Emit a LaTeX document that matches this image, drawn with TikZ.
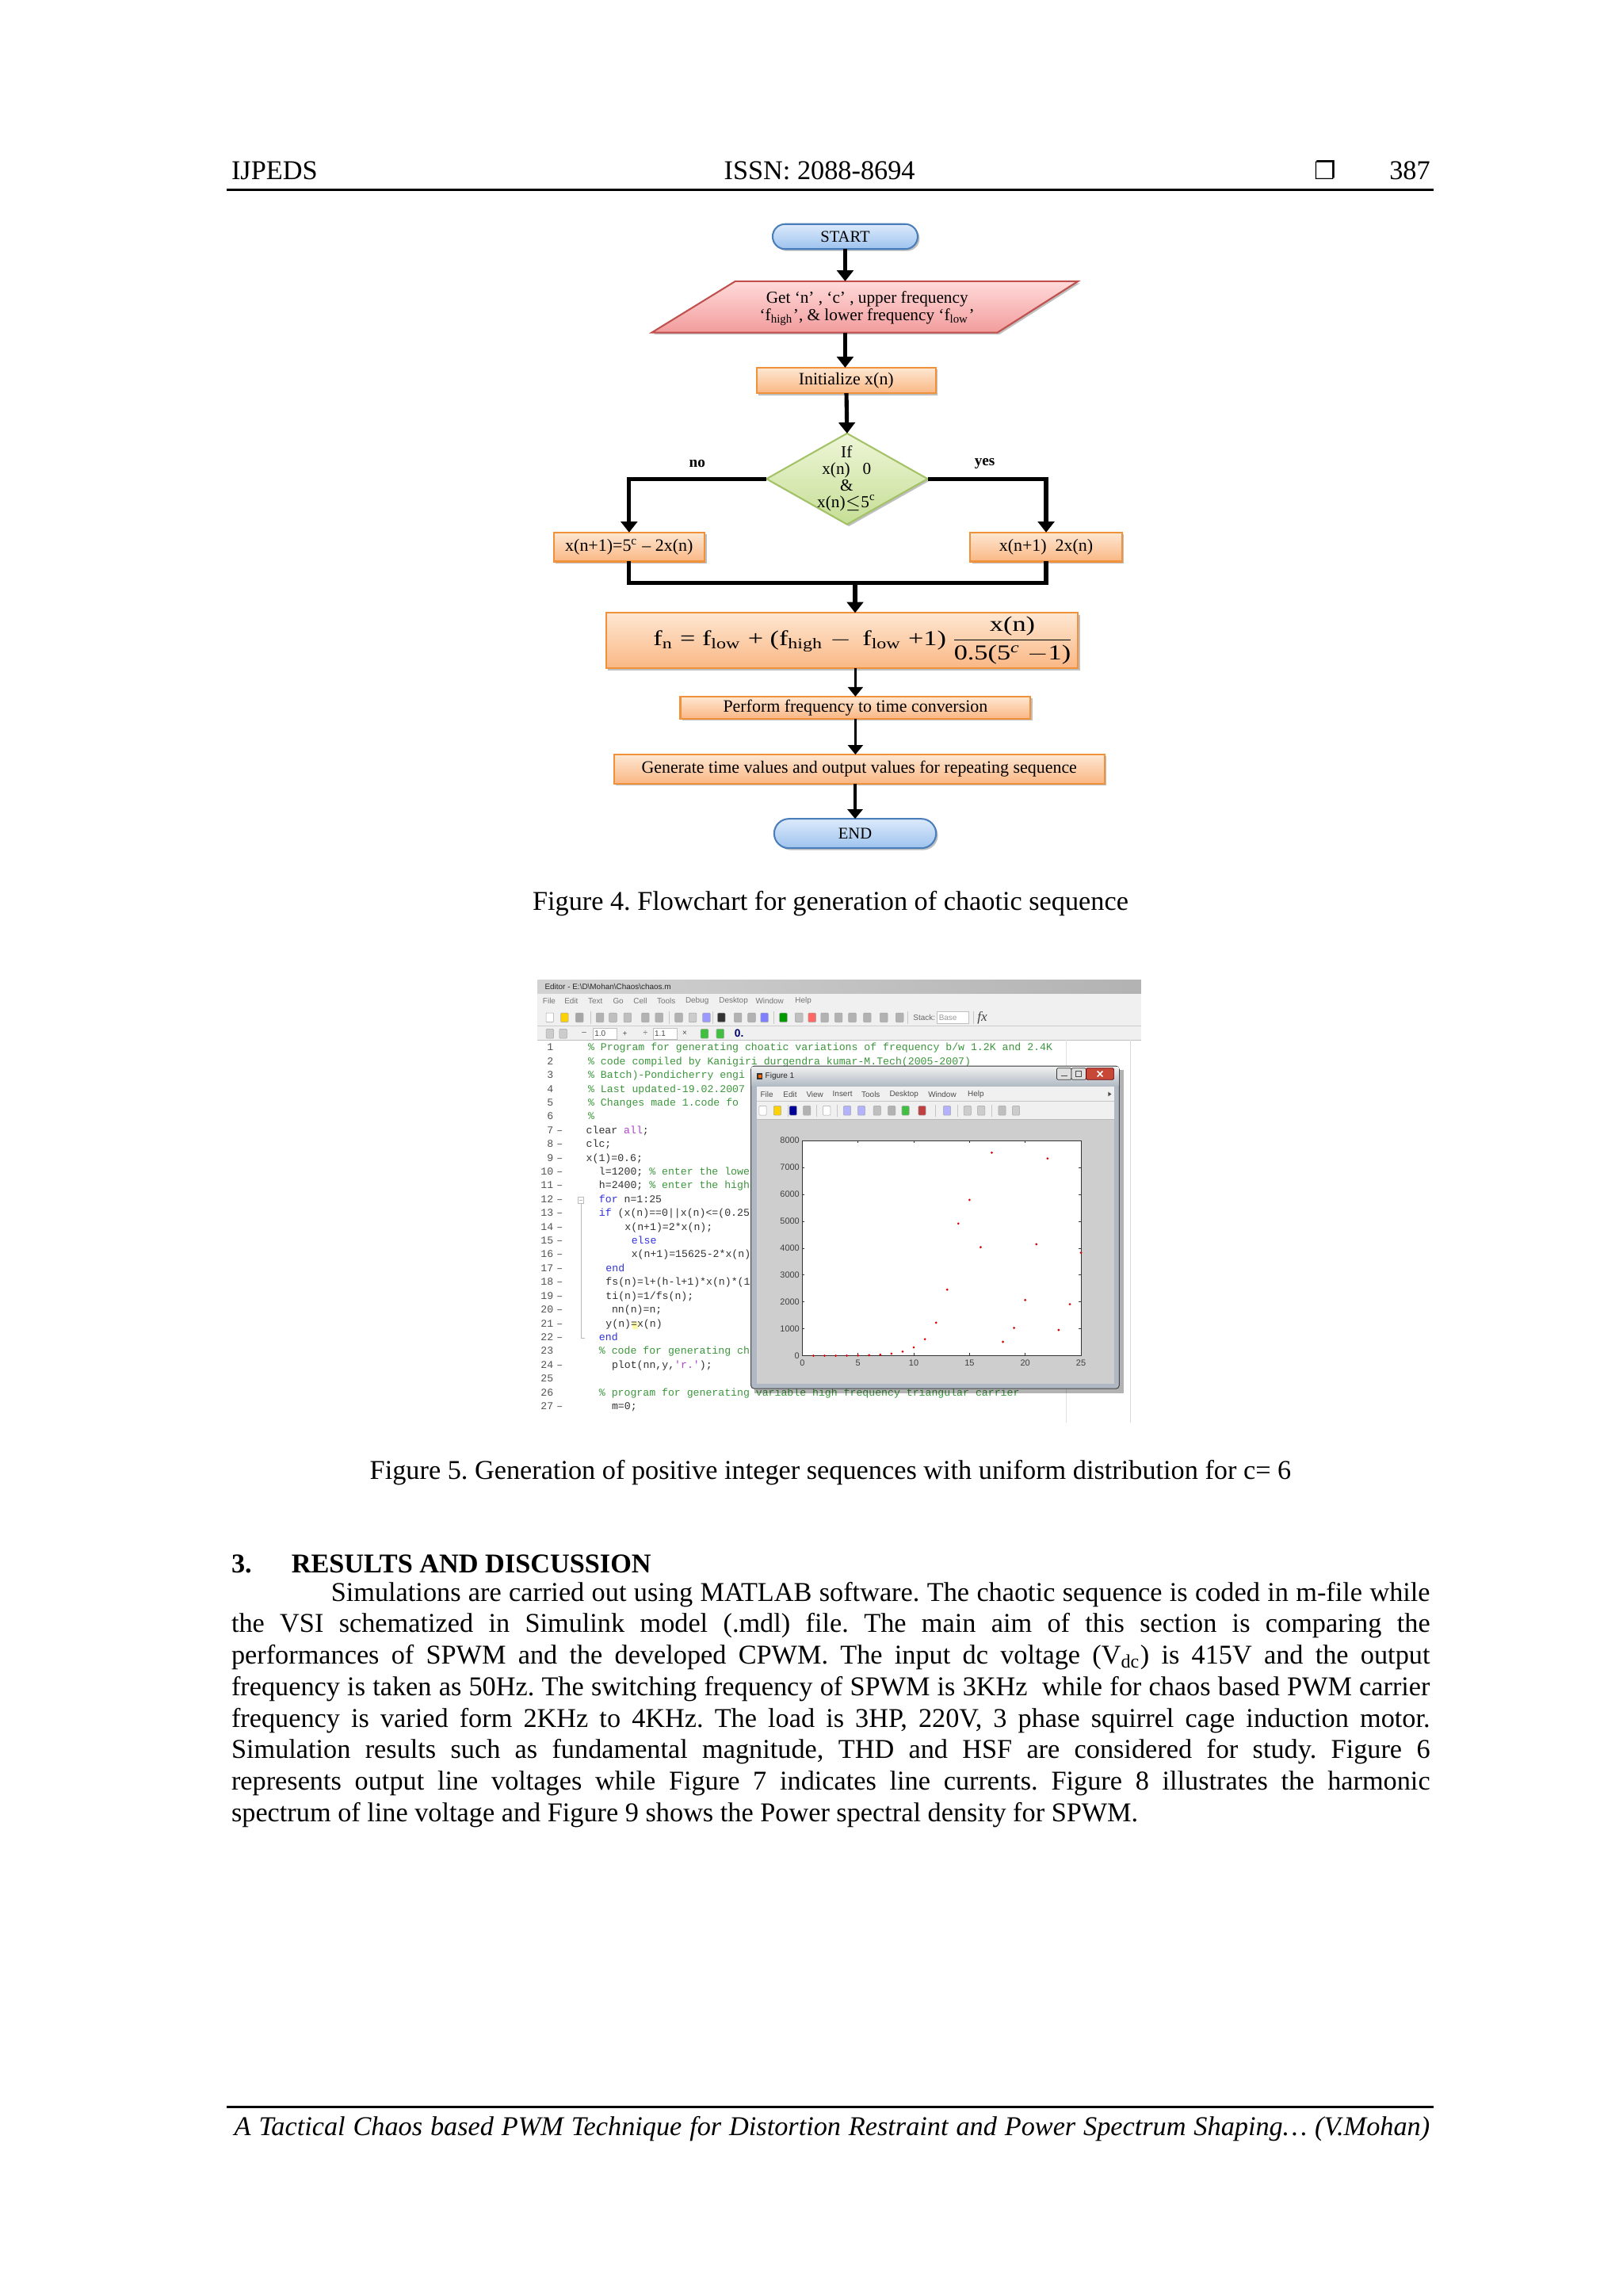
\documentclass[tikz,border=0pt]{standalone}
\usepackage{fontspec}
\usepackage{amsmath}
\usepackage{graphicx}
\setmainfont{Liberation Serif}
\setmonofont{Liberation Mono}
\newfontfamily\symfont{DejaVu Sans}
\newfontfamily\uifont{Liberation Sans}
\usetikzlibrary{arrows.meta,shadows,shapes.geometric,calc}
\frenchspacing

\definecolor{bluetop}{HTML}{DCEAFB}
\definecolor{bluebot}{HTML}{9EC3EE}
\definecolor{bluebd}{HTML}{4A7EBB}
\definecolor{pinktop}{HTML}{FFDADA}
\definecolor{pinkbot}{HTML}{F29C9C}
\definecolor{pinkbd}{HTML}{C0504D}
\definecolor{oratop}{HTML}{FEE7D2}
\definecolor{orabot}{HTML}{FAB784}
\definecolor{orabd}{HTML}{F0913C}
\definecolor{grntop}{HTML}{EEF6D8}
\definecolor{grnbot}{HTML}{C6DE95}
\definecolor{grnbd}{HTML}{A3C266}
\definecolor{cgreen}{RGB}{60,150,60}
\definecolor{cblue}{RGB}{50,50,225}
\definecolor{cpurple}{RGB}{170,70,200}
\definecolor{ctext}{RGB}{50,50,50}
\definecolor{figbg}{RGB}{206,206,206}
\definecolor{uibg}{RGB}{240,240,240}
\definecolor{framec}{RGB}{176,185,195}

\def\upx{0.18953mm}
\newcommand\bodyfont{\fontsize{10}{11.56}\selectfont}
\newcommand\fcfont{\fontsize{6.4}{6.6}\selectfont}
\newcommand\codefont{\ttfamily\fontsize{3.85}{4}\selectfont}
\newcommand\uitext{\uifont\fontsize{2.9}{3.2}\selectfont}
\newcommand\codeline[3]{\node[code] (cd#1) at (#2,{717.3+(#1-1)*9.42}) {#3};}

\tikzset{
  every node/.style={inner sep=0pt, outer sep=0pt},
  shd/.style={drop shadow={shadow xshift=.7pt, shadow yshift=-.7pt, opacity=.25, fill=black}},
  term/.style={draw=bluebd, line width=.6pt, top color=bluetop, bottom color=bluebot,
    font=\fontsize{6}{7}\selectfont, shd},
  procbox/.style={draw=orabd, line width=.6pt, top color=oratop, bottom color=orabot,
    font=\fcfont, shd},
  arrA/.style={line width=1.5pt, -{Triangle[length=4pt,width=6pt]}},
  lineA/.style={line width=1.5pt},
  arrB/.style={line width=1pt, -{Triangle[length=3.5pt,width=5.5pt]}},
  code/.style={anchor=base west, font=\codefont, text=ctext},
  lnum/.style={anchor=base east, font=\codefont, text=gray!65!black},
  ui/.style={font=\uitext, text=black!75},
  icon/.style={fill=#1, draw=black!35, line width=.15pt, rounded corners=.3pt},
  bodytxt/.style={anchor=base west, font=\bodyfont}
}

\begin{document}
\begin{tikzpicture}[x=\upx, y=-\upx]
\useasboundingbox (0,0) rectangle (1108,1567.4);
\fill[white] (0,0) rectangle (1108,1567.4);

% ---------------- header ----------------
\node[anchor=base west, font=\bodyfont] (hdl) at (158,122.5) {IJPEDS};
\node[anchor=base, font=\bodyfont] (hdc) at (559.5,122.5) {ISSN: 2088-8694};
\node[anchor=base, font=\symfont\fontsize{9}{10}\selectfont] (hdsq) at (905,122.5) {❐};
\node[anchor=base east, font=\bodyfont] (hdr) at (976.4,122.5) {387};
\draw[line width=.8pt] (155,129.5) -- (979,129.5);

% ---------------- flowchart ----------------
\node[term, rounded corners=4.6pt, minimum width=53.4pt, minimum height=9.2pt] (start) at (577,161.5) {START};

\path[draw=pinkbd, line width=.6pt, top color=pinktop, bottom color=pinkbot, shd]
  (502,192) -- (736,192) -- (681,227) -- (445,227) -- cycle;
\node[font=\fontsize{6.2}{6.5}\selectfont, align=center] (inp) at (592,210.5)
  {Get ‘n’ , ‘c’ , upper frequency\\‘f\textsubscript{high}’, \& lower frequency ‘f\textsubscript{low}’};
\coordinate (inptop) at (577,192);
\coordinate (inpbot) at (577,227);

\node[procbox, minimum width=65.9pt, minimum height=9.4pt] (init) at (577.7,259.7) {Initialize x(n)};

\node[diamond, draw=grnbd, line width=.6pt, top color=grntop, bottom color=grnbot,
  minimum width=59.3pt, minimum height=33.5pt, shd] (dec) at (578.3,326.9) {};
\node[font=\fontsize{6.2}{6.1}\selectfont, align=center] (dect) at (578,326.5)
  {If\\x(n) \ \ 0\\\&\\x(n)$\leq$5\textsuperscript{c}};

\node[font=\bfseries\fontsize{5.6}{6}\selectfont] (nolab) at (476,316.6) {no};
\node[font=\bfseries\fontsize{5.6}{6}\selectfont] (yeslab) at (672.3,316.6) {yes};

\node[procbox, minimum width=55.6pt, minimum height=10.7pt] (lbox) at (429.5,373.4)
  {x(n+1)=5\textsuperscript{c} – 2x(n)};
\node[procbox, minimum width=55.9pt, minimum height=10.7pt] (rbox) at (714.2,373.4)
  {x(n+1) \ 2x(n)};

\node[procbox, minimum width=173.8pt, minimum height=20.4pt] (form) at (574.9,437.3) {};
\node[font=\fontsize{10}{11}\selectfont] (formt) at (589.7,437.3)
  {\scalebox{1}[0.78]{f\textsubscript{n} = f\textsubscript{low} + (f\textsubscript{high} $-$\, f\textsubscript{low} +1)\,$\dfrac{\text{x(n)}}{\text{0.5(5\textsuperscript{\itshape c} $-$1)}}$}};

\node[procbox, minimum width=128.9pt, minimum height=8.1pt] (perf) at (584,483)
  {Perform frequency to time conversion};
\node[procbox, minimum width=180.5pt, minimum height=10.7pt] (gen) at (586.6,525)
  {Generate time values and output values for repeating sequence};
\node[term, rounded corners=5.4pt, minimum width=59.6pt, minimum height=10.8pt] (endn) at (583.8,569) {END};

% connectors
\draw[arrA] (start) -- (inptop);
\draw[arrA] (inpbot) -- (inpbot |- init.north);
\draw[arrA] (init) -- (dec.north);
\draw[arrA] (dec.west) -| (lbox.north);
\draw[arrA] (dec.east) -| (rbox.north);
\coordinate (merge) at (583.8,398);
\draw[lineA] (lbox.south) |- (merge);
\draw[lineA] (rbox.south) |- (merge);
\draw[arrA] (merge) -- (merge |- form.north);
\draw[arrB] (form.south -| perf.north) -- (perf.north);
\draw[arrB] (perf.south) -- (perf.south |- gen.north);
\draw[arrB] (gen.south -| endn.north) -- (endn.north);

\node[anchor=base, font=\bodyfont] (cap4) at (567,621.2) {Figure 4. Flowchart for generation of chaotic sequence};

% ---------------- MATLAB screenshot ----------------
\fill[white] (367,669) rectangle (779,971);
\shade[left color=gray!35, middle color=gray!75!black, right color=gray!60] (367,669) rectangle (779,678.5);
\node[ui, anchor=west, text=black!85] (edtitle) at (372,673.7)
  {Editor - E:\textbackslash D\textbackslash Mohan\textbackslash Chaos\textbackslash chaos.m};
\fill[uibg] (367,678.5) rectangle (779,688);
\foreach \nm/\xx in {File/370.6,Edit/385.4,Text/401.5,Go/418.5,Cell/432.5,Tools/448.6,Debug/468,Desktop/490.9,Window/515.9,Help/542.9}
  \node[ui, anchor=west, text=black!55] (em\nm) at (\xx,683.4) {\nm};
\fill[uibg] (367,688) rectangle (779,710);
\draw[gray!40, line width=.2pt] (367,700.5) -- (779,700.5);
\draw[gray!50, line width=.2pt] (367,710) -- (779,710);
% toolbar 1 icons
\foreach \xx/\cc in {375.4/white,385.4/yellow!70!orange,395.6/gray!70,409.6/gray!60,418.5/gray!50,428.4/gray!50,440.6/gray!60,450/gray!60,463.4/gray!60,472.9/gray!40,482.3/blue!40,492.5/black!80,503.8/gray!60,513.2/gray!60,521.9/blue!50,534.8/green!60!black,545.5/gray!50,554.4/red!60,563/gray!60,572.5/gray!60,581.9/gray!60,592.1/gray!60,603.4/gray!60,614.2/gray!60}
  \path[icon=\cc] (\xx-2.6,691.5) rectangle (\xx+2.6,697.8);
\foreach \xx in {403,457,486.5,528.5,619.5,664.5}
  \draw[gray!45, line width=.2pt] (\xx,690.5) -- (\xx,698.8);
\node[ui, anchor=west, text=black!60] (stk) at (623.5,694.6) {Stack:};
\draw[gray!50, fill=white, line width=.2pt] (639.8,690.8) rectangle (661.3,698.5);
\node[ui, anchor=west, text=black!40] (stkb) at (641,694.6) {Base};
\node[font=\itshape\fontsize{5}{5}\selectfont, text=black!75] (fxl) at (670.7,694.6) {fx};
% toolbar 2
\path[icon=gray!40] (372.8,702.5) rectangle (378,708.8);
\path[icon=gray!40] (381.9,702.5) rectangle (387.1,708.8);
\node[ui, text=black!70] (tb2a) at (398.8,705.6) {–};
\draw[gray!50, fill=white, line width=.2pt] (405,701.8) rectangle (421,709.3);
\node[ui, anchor=west, text=black!70] (tb2b) at (406,705.6) {1.0};
\node[ui, text=black!70] (tb2c) at (426.6,705.6) {+};
\node[ui, text=black!70] (tb2d) at (440.6,705.6) {÷};
\draw[gray!50, fill=white, line width=.2pt] (446,701.8) rectangle (462,709.3);
\node[ui, anchor=west, text=black!70] (tb2e) at (447,705.6) {1.1};
\node[ui, text=black!70] (tb2f) at (467.5,705.6) {×};
\path[icon=green!50!gray] (478.4,702.5) rectangle (483.6,708.8);
\path[icon=green!50!gray] (489.1,702.5) rectangle (494.3,708.8);
\node[font=\uifont\bfseries\fontsize{4}{4}\selectfont, text=blue!40!black] (tb2g) at (504.6,705.6) {0.};
% margin lines
\draw[gray!25, line width=.25pt] (728,710) -- (728,971);
\draw[gray!30, line width=.25pt] (772,710) -- (772,971);
% line numbers and run markers
\foreach \i in {1,...,27}
  \node[lnum] (ln\i) at (377.8,{717.3+(\i-1)*9.42}) {\i};
\foreach \i in {7,...,22,24,27}
  \node[lnum, anchor=base west] (mk\i) at (380,{717.3+(\i-1)*9.42}) {–};
% fold marker
\draw[gray!55, line width=.2pt] (394.6,817.3) rectangle (398.6,821.3);
\draw[gray!55, line width=.2pt] (395.4,819.3) -- (397.8,819.3);
\draw[gray!55, line width=.2pt] (396.6,821.3) -- (396.6,913.5) -- (399.5,913.5);
% code
\codeline{1}{401.5}{\color{cgreen}\% Program for generating choatic variations of  frequency b/w 1.2K and 2.4K}
\codeline{2}{401.5}{\color{cgreen}\% code compiled by Kanigiri durgendra kumar-M.Tech(2005-2007)}
\codeline{3}{401.5}{\color{cgreen}\% Batch)-Pondicherry engi}
\codeline{4}{401.5}{\color{cgreen}\% Last updated-19.02.2007}
\codeline{5}{401.5}{\color{cgreen}\% Changes made  1.code fo}
\codeline{6}{401.5}{\color{cgreen}\%}
\codeline{7}{400.2}{clear \textcolor{cpurple}{all};}
\codeline{8}{400.2}{clc;}
\codeline{9}{400.2}{x(1)=0.6;}
\codeline{10}{409}{l=1200; \textcolor{cgreen}{\% enter the lowe}}
\codeline{11}{409}{h=2400; \textcolor{cgreen}{\% enter the high}}
\codeline{12}{409}{\textcolor{cblue}{for} n=1:25}
\codeline{13}{409}{\textcolor{cblue}{if} (x(n)==0||x(n)<=(0.25}
\codeline{14}{426.6}{x(n+1)=2*x(n);}
\codeline{15}{431.1}{\textcolor{cblue}{else}}
\codeline{16}{431.1}{x(n+1)=15625-2*x(n)}
\codeline{17}{413.6}{\textcolor{cblue}{end}}
\codeline{18}{413.6}{fs(n)=l+(h-l+1)*x(n)*(1}
\codeline{19}{413.6}{ti(n)=1/fs(n);}
\codeline{20}{417.7}{nn(n)=n;}
\fill[yellow!35] (431.5,902.3) rectangle (435.6,907.4);
\codeline{21}{413.6}{y(n)=x(n)}
\codeline{22}{409}{\textcolor{cblue}{end}}
\codeline{23}{409}{\color{cgreen}\% code for generating ch}
\codeline{24}{417.7}{plot(nn,y,\textcolor{cpurple}{'r.'});}
\codeline{26}{409}{\color{cgreen}\% program for generating  variable high frequency triangular carrier}
\codeline{27}{417.7}{m=0;}

% figure window
\fill[black, opacity=.3] (515,730.5) rectangle (767,951);
\draw[gray!55!black, fill=framec, rounded corners=1.2pt, line width=.3pt] (512.7,727.8) rectangle (764.1,948);
\shade[top color=gray!12, bottom color=framec] (513.2,728.3) rectangle (763.6,741.5);
\fill[black!80] (516.8,732.8) rectangle (520.6,736.8);
\fill[orange!80!red] (517.6,733.6) rectangle (519.8,736);
\node[ui, anchor=west, text=black!85] (figtitle) at (522.5,734.8) {Figure 1};
\draw[gray!45!black, fill=gray!25, line width=.2pt, rounded corners=.4pt] (721.5,729.2) rectangle (731.5,737);
\draw[black!70, line width=.35pt] (724.3,734.6) -- (728.7,734.6);
\draw[gray!45!black, fill=gray!25, line width=.2pt, rounded corners=.4pt] (731.5,729.2) rectangle (741.5,737);
\draw[black!70, line width=.3pt] (734.5,731.3) rectangle (738.5,735.2);
\draw[red!40!black, fill={rgb,255:red,200;green,72;blue,56}, line width=.2pt, rounded corners=.4pt] (741.5,729.2) rectangle (760.5,737);
\draw[white, line width=.45pt] (749.2,731.2) -- (752.8,735) (749.2,735) -- (752.8,731.2);
\fill[figbg] (516.5,742) rectangle (760.5,944.5);
\fill[uibg] (516.5,742) rectangle (760.5,764);
\draw[gray!45, line width=.2pt] (516.5,751.8) -- (760.5,751.8);
\draw[gray!55, line width=.2pt] (516.5,764) -- (760.5,764);
\foreach \nm/\xx in {File/523.5,Edit/539.4,View/556.3,Insert/575.2,Tools/594.5,Desktop/617.2,Window/643.3,Help/666.2}
  \node[ui, text=black!70] (fm\nm) at (\xx,746.9) {\nm};
\fill[black!70] (756.6,745.4) -- (758.8,746.9) -- (756.6,748.4) -- cycle;
\foreach \xx/\cc in {520.8/white,530.7/yellow!70!orange,541.5/blue!60!black,550.9/gray!60,564.4/white,578.4/blue!30,588.1/blue!30,598.8/gray!50,608.8/gray!60,618.2/green!50!gray,629.5/red!50!gray,646.5/blue!30,660.5/gray!40,669.9/gray!40,684.2/gray!50,693.6/gray!40}
  \path[icon=\cc] (\xx-2.5,755) rectangle (\xx+2.5,761.3);
\foreach \xx in {538.2,557.6,571.6,638.6,653.6,677.2}
  \draw[gray!45, line width=.2pt] (\xx,754.3) -- (\xx,762.2);

% axes
\fill[white] (547.7,778.6) rectangle (738,925.5);
\draw[black!80, line width=.25pt] (547.7,778.6) rectangle (738,925.5);
\foreach \k/\lab in {0/0,1/5,2/10,3/15,4/20,5/25}{
  \draw[black!80, line width=.2pt] ({547.7+\k*38.06},925.5) -- ({547.7+\k*38.06},923.8)
     ({547.7+\k*38.06},778.6) -- ({547.7+\k*38.06},780.3);
  \node[ui, text=black!75, font=\uifont\fontsize{3.2}{3.4}\selectfont] (xl\k) at ({547.7+\k*38.06},930.5) {\lab};
}
\foreach \k in {0,...,8}{
  \draw[black!80, line width=.2pt] (547.7,{925.5-\k*18.36}) -- (549.4,{925.5-\k*18.36})
     (738,{925.5-\k*18.36}) -- (736.3,{925.5-\k*18.36});
  \node[ui, anchor=east, text=black!75, font=\uifont\fontsize{3.2}{3.4}\selectfont] (yl\k) at (545.8,{925.5-\k*18.36}) {\ifnum\k=0 0\else\k000\fi};
}
\foreach \n/\v in {1/0.6,2/1.2,3/2.4,4/4.8,5/9.6,6/19.2,7/38.4,8/76.8,9/153.6,10/307.2,11/614.4,12/1228.8,13/2457.6,14/4915.2,15/5794.6,16/4035.8,17/7553.4,18/518.2,19/1036.4,20/2072.8,21/4145.6,22/7333.8,23/957.4,24/1914.8,25/3829.6}
  \fill[red!85!black] ({547.7+\n*7.612},{925.5-\v*0.018363}) circle (0.45pt);

\node[anchor=base, font=\bodyfont] (cap5) at (567,1009.7)
  {Figure 5. Generation of positive integer sequences with uniform distribution for c= 6};

% ---------------- section text ----------------
\node[bodytxt, font=\bodyfont\bfseries] (secn) at (158,1073.5) {3.};
\node[bodytxt, font=\bodyfont\bfseries] (sect) at (199,1073.5) {RESULTS AND DISCUSSION};
\node[bodytxt] (p1) at (158,1092.9) {\makebox[441.3pt][s]{\hspace*{36.7pt}Simulations are carried out using MATLAB software. The chaotic sequence is coded in m-file while}};
\node[bodytxt] (p2) at (158,{1092.9+1*21.51}) {\makebox[441.3pt][s]{the VSI schematized in Simulink model (.mdl) file. The main aim of this section is comparing the}};
\node[bodytxt] (p3) at (158,{1092.9+2*21.51}) {\makebox[441.3pt][s]{performances of SPWM and the developed CPWM. The input dc voltage (V\textsubscript{dc}) is 415V and the output}};
\node[bodytxt] (p4) at (158,{1092.9+3*21.51}) {\makebox[441.3pt][s]{frequency is taken as 50Hz. The switching frequency of SPWM is 3KHz\ \ while for chaos based PWM carrier}};
\node[bodytxt] (p5) at (158,{1092.9+4*21.51}) {\makebox[441.3pt][s]{frequency is varied form 2KHz to 4KHz. The load is 3HP, 220V, 3 phase squirrel cage induction motor.}};
\node[bodytxt] (p6) at (158,{1092.9+5*21.51}) {\makebox[441.3pt][s]{Simulation results such as fundamental magnitude, THD and HSF are considered for study. Figure 6}};
\node[bodytxt] (p7) at (158,{1092.9+6*21.51}) {\makebox[441.3pt][s]{represents output line voltages while Figure 7 indicates line currents. Figure 8 illustrates the harmonic}};
\node[bodytxt] (p8) at (158,{1092.9+7*21.51}) {spectrum of line voltage and Figure 9 shows the Power spectral density for SPWM.};

% ---------------- footer ----------------
\draw[line width=.8pt] (155,1438.5) -- (979,1438.5);
\node[anchor=base west, font=\bodyfont\itshape] (foot) at (160,1458)
  {\makebox[440.1pt][s]{A Tactical Chaos based PWM Technique for Distortion Restraint and Power Spectrum Shaping… (V.Mohan)}};
\end{tikzpicture}
\end{document}
